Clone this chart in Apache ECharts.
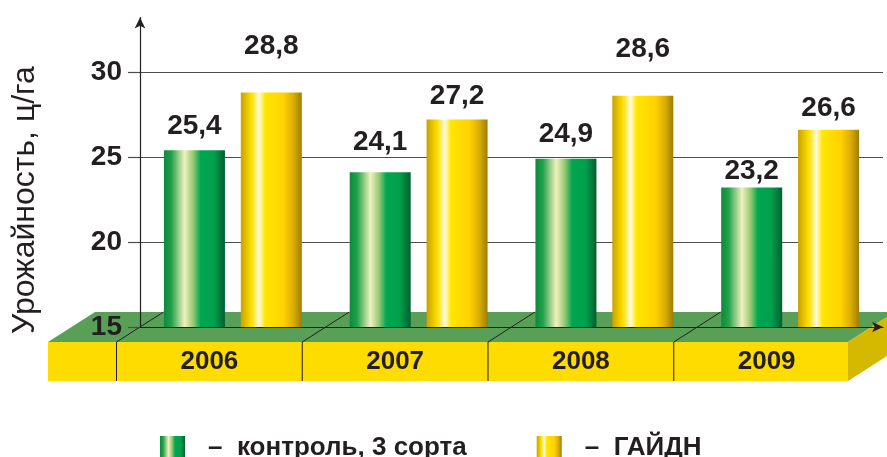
<!DOCTYPE html>
<html>
<head>
<meta charset="utf-8">
<script src="https://cdn.jsdelivr.net/npm/echarts@6/dist/echarts.min.js"></script>
<style>
  html, body { margin: 0; padding: 0; background: #fff; }
  #chart { width: 887px; height: 457px; }
</style>
</head>
<body>
<div id="chart"></div>
<script>
const years = ['2006', '2007', '2008', '2009'];
const controlYield = [25.4, 24.1, 24.9, 23.2];
const gaidnYield = [28.8, 27.2, 28.6, 26.6];
const yTicks = [15, 20, 25, 30];
const seriesNames = ['контроль, 3 сорта', 'ГАЙДН'];
const yAxisTitle = 'Урожайность, ц/га';

// how far each value label sits above its bar, px (as placed in the original)
const controlLabelGap = [10, 16, 10, 2];
const gaidnLabelGap = [32, 9, 33, 8];

const FONT = '"Liberation Sans", Arial, sans-serif';
const INK = '#231f20';
const GRID_LINE = '#4d4d4d';

const greenFill = new echarts.graphic.LinearGradient(0, 0, 1, 0, [
  { offset: 0, color: '#0b8a3e' },
  { offset: 0.12, color: '#22a04a' },
  { offset: 0.34, color: '#f1f1bd' },
  { offset: 0.48, color: '#96c872' },
  { offset: 0.6, color: '#00a651' },
  { offset: 0.82, color: '#00a04c' },
  { offset: 1, color: '#005f30' }
]);

const yellowFill = new echarts.graphic.LinearGradient(0, 0, 1, 0, [
  { offset: 0, color: '#c9a100' },
  { offset: 0.18, color: '#ffe100' },
  { offset: 0.3, color: '#fffbe0' },
  { offset: 0.4, color: '#ffe600' },
  { offset: 0.7, color: '#ffd200' },
  { offset: 0.86, color: '#dcae00' },
  { offset: 1, color: '#9c7e00' }
]);

const valueLabel = {
  show: true,
  position: 'top',
  fontFamily: FONT,
  fontSize: 28,
  fontWeight: 'bold',
  lineHeight: 28,
  color: INK,
  formatter: (p) => String(p.value).replace('.', ',')
};

const chart = echarts.init(document.getElementById('chart'));

chart.setOption({
  animation: false,
  grid: { left: 140, right: 4, top: 17.6, bottom: 130 },
  legend: {
    left: 155,
    top: 430,
    icon: 'rect',
    itemWidth: 25,
    itemHeight: 24,
    itemGap: 70,
    selectedMode: false,
    formatter: (name) => '–  ' + name,
    textStyle: {
      fontFamily: FONT,
      fontSize: 26,
      lineHeight: 26,
      fontWeight: 'bold',
      color: INK,
      padding: [0, 0, 0, 18]
    }
  },
  xAxis: {
    type: 'category',
    data: years,
    axisTick: { show: false },
    axisLine: {
      show: true,
      symbol: ['none', 'arrow'],
      symbolSize: [8, 11],
      lineStyle: { color: INK, width: 1.2 }
    },
    axisLabel: {
      margin: 22,
      padding: [0, 47, 0, 0],
      fontFamily: FONT,
      fontSize: 26,
      fontWeight: 'bold',
      color: INK
    }
  },
  yAxis: {
    type: 'value',
    min: 15,
    max: 33.2,
    axisLine: {
      show: true,
      symbol: ['none', 'arrow'],
      symbolSize: [8, 11],
      lineStyle: { color: INK, width: 1.2 }
    },
    axisTick: {
      show: true,
      length: 12,
      customValues: yTicks,
      lineStyle: { color: GRID_LINE, width: 1.2 }
    },
    axisLabel: {
      customValues: yTicks,
      margin: 18,
      fontFamily: FONT,
      fontSize: 28,
      fontWeight: 'bold',
      color: INK
    },
    splitLine: {
      show: true,
      showMinLine: false,
      lineStyle: { color: GRID_LINE, width: 1.2 }
    }
  },
  series: [
    {
      name: seriesNames[0],
      type: 'bar',
      barWidth: 61,
      barGap: '26%',
      itemStyle: { color: greenFill },
      label: valueLabel,
      data: controlYield.map((v, i) => ({ value: v, label: { distance: controlLabelGap[i] } }))
    },
    {
      name: seriesNames[1],
      type: 'bar',
      barWidth: 61,
      itemStyle: { color: yellowFill },
      label: valueLabel,
      data: gaidnYield.map((v, i) => ({ value: v, label: { distance: gaidnLabelGap[i] } }))
    }
  ]
});

// platform under the bars, laid out from the axes
const baseY = chart.convertToPixel({ yAxisIndex: 0 }, yTicks[0]);
const catW = chart.convertToPixel({ xAxisIndex: 0 }, years[1]) - chart.convertToPixel({ xAxisIndex: 0 }, years[0]);
const bounds = years.map((y) => chart.convertToPixel({ xAxisIndex: 0 }, y) - catW / 2);
const depth = 15;
const shift = 23.5;
const faceH = 39;
const frontY = baseY + depth;
const backY = baseY - depth;
const platLeft = 48;
const platRight = 848;

const pieces = [
  {
    type: 'polygon',
    z: -5,
    shape: { points: [[platLeft, frontY], [platLeft + 2 * shift, backY], [platRight + 2 * shift, backY], [platRight, frontY]] },
    style: { fill: '#5a9f58' }
  },
  {
    type: 'rect',
    z: -5,
    shape: { x: platLeft, y: frontY, width: platRight - platLeft, height: faceH },
    style: { fill: '#ffdc00' }
  },
  {
    type: 'polygon',
    z: -5,
    shape: { points: [[platRight, frontY], [platRight + 2 * shift, backY], [platRight + 2 * shift, backY + faceH], [platRight, frontY + faceH]] },
    style: { fill: '#d5b800' }
  },
  {
    type: 'text',
    x: 25,
    y: 200,
    rotation: Math.PI / 2,
    style: {
      text: yAxisTitle,
      fontFamily: FONT,
      fontSize: 32,
      fill: INK,
      align: 'center',
      verticalAlign: 'middle'
    }
  }
];

bounds.forEach((b) => {
  pieces.push({
    type: 'polyline',
    z: -4,
    shape: { points: [[b - shift, frontY + faceH], [b - shift, frontY], [b + shift, backY]] },
    style: { stroke: INK, lineWidth: 1, fill: null }
  });
});

chart.setOption({ graphic: pieces });
</script>
</body>
</html>
